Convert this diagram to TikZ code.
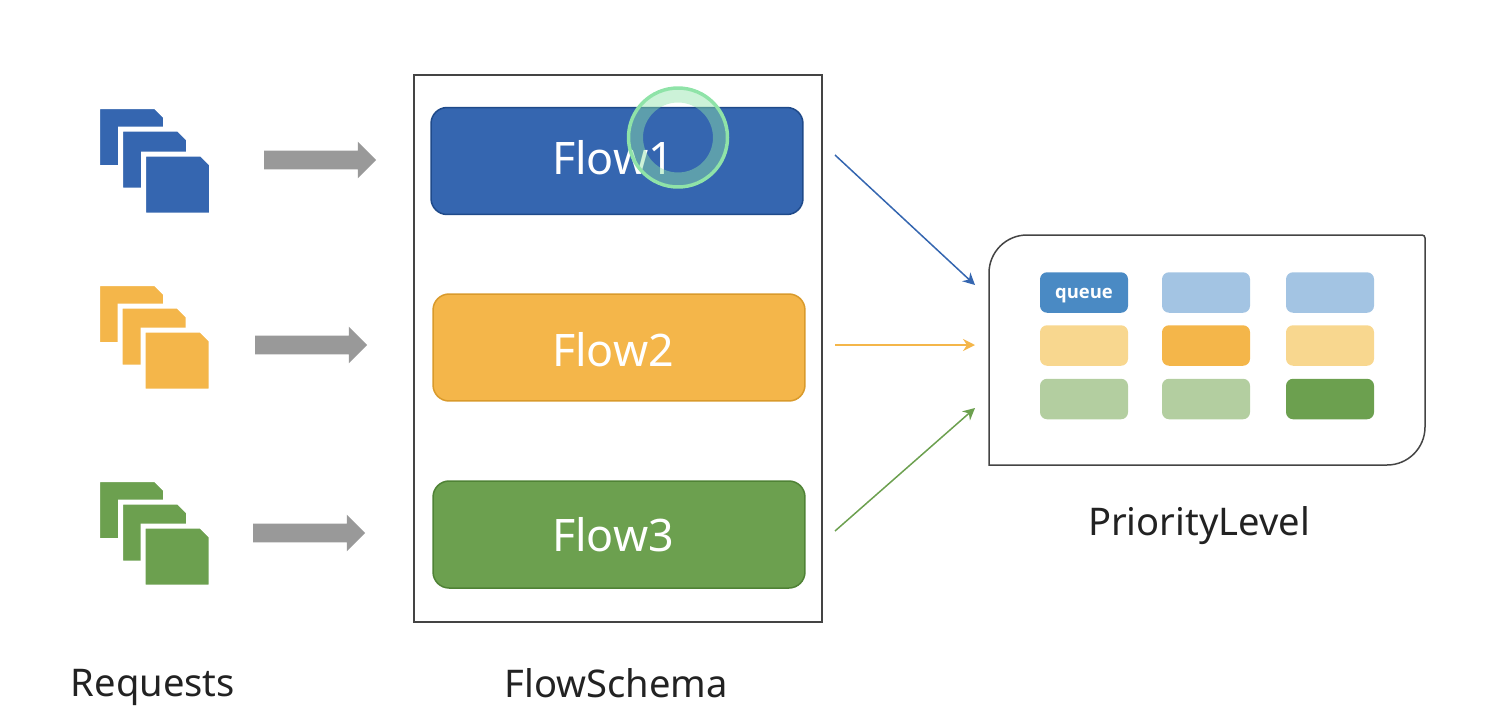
\documentclass[tikz,border=0pt]{standalone}
\usepackage{fontspec}
\setmainfont{Noto Sans}
\newfontfamily\queuefont{Open Sans}
\usetikzlibrary{shapes.arrows, arrows.meta}

\definecolor{flowblue}{HTML}{3566B0}
\definecolor{flowblueline}{HTML}{1F4A8A}
\definecolor{floworange}{HTML}{F4B64A}
\definecolor{floworangeline}{HTML}{D99A2B}
\definecolor{flowgreen}{HTML}{6CA04F}
\definecolor{flowgreenline}{HTML}{4F8235}
\definecolor{queueblue}{HTML}{4A8AC4}
\definecolor{paleblue}{HTML}{A3C4E3}
\definecolor{paleorange}{HTML}{F8D78F}
\definecolor{palegreen}{HTML}{B3CEA0}
\definecolor{arrowgray}{HTML}{999999}
\definecolor{boxline}{HTML}{444444}
\definecolor{ringgreen}{HTML}{8FE3A8}
\definecolor{labeltext}{HTML}{222222}

\tikzset{
	page/.pic={
		\path[draw=white, line width=0.1cm, pic actions] (-34,-30.5) -- (24,-30.5) -- (34,-20.5)
			-- (34,30.5) -- (-34,30.5) -- cycle;
	},
	grayarrow/.style={single arrow, fill=arrowgray, minimum width=0.72cm, minimum height=2.24cm,
		text height=0.36cm, text depth=0cm, text width=0.1cm,
		single arrow head extend=0.18cm, inner sep=0pt, outer sep=0pt},
	flowbox/.style={rectangle, rounded corners=0.32cm, line width=0.03cm,
		minimum width=7.44cm, minimum height=2.14cm, inner sep=0pt, outer sep=0pt},
	flowtext/.style={text=white, font=\fontsize{25.5}{30}\selectfont},
	cell/.style={rectangle, rounded corners=0.14cm, minimum width=1.76cm, minimum height=0.81cm,
		inner sep=0pt, outer sep=0pt},
	caption/.style={text=labeltext, font=\fontsize{21.7}{26}\selectfont},
	thinarrow/.style={-{Stealth[length=0.24cm, width=0.24cm]}, line width=0.03cm},
	outline/.style={draw=boxline, line width=0.03cm}
}

\begin{document}
\begin{tikzpicture}[x=0.02cm, y=-0.02cm]
	\useasboundingbox (0,0) rectangle (1504,724);

	%% requests
	\pic[fill=flowblue] (blue1) at (131.5,137) {page};
	\pic[fill=flowblue] (blue2) at (154.5,159.5) {page};
	\pic[fill=flowblue] (blue3) at (177.5,184.5) {page};

	\pic[fill=floworange] (orange1) at (131.5,314) {page};
	\pic[fill=floworange] (orange2) at (154,336.5) {page};
	\pic[fill=floworange] (orange3) at (177,360.5) {page};

	\pic[fill=flowgreen] (green1) at (131.5,510) {page};
	\pic[fill=flowgreen] (green2) at (154.5,532.5) {page};
	\pic[fill=flowgreen] (green3) at (177,556.5) {page};

	\node[grayarrow] (arrow1) at (315.5,160) {};
	\node[grayarrow] (arrow2) at (306.5,345) {};
	\node[grayarrow] (arrow3) at (304.5,533) {};

	%% flow schema
	\node[outline, rectangle, minimum width=8.16cm, minimum height=10.94cm,
		inner sep=0pt, outer sep=0pt] (schema) at (618,348.5) {};

	\node[flowbox, fill=flowblue, draw=flowblueline] (flow1) at (617,161) {};
	\node[flowbox, fill=floworange, draw=floworangeline] (flow2) at (619,347.5) {};
	\node[flowbox, fill=flowgreen, draw=flowgreenline] (flow3) at (619,534.5) {};

	\node[flowtext] (flow1text) at (613,158) {Flow1};
	\node[flowtext] (flow2text) at (613,350) {Flow2};
	\node[flowtext] (flow3text) at (613,535) {Flow3};

	%% pointer ring
	\node[circle, draw=ringgreen, draw opacity=0.45, line width=0.26cm, minimum size=1.66cm,
		inner sep=0pt] (ringband) at (678,137.5) {};
	\node[circle, draw=ringgreen, line width=0.07cm, minimum size=1.98cm,
		inner sep=0pt] (ringrim) at (678,137.5) {};

	%% priority level
	\draw[outline] (989,465) [rounded corners=0.76cm] -- (989,235)
		[rounded corners=0.06cm] -- (1425,235)
		[rounded corners=0.76cm] -- (1425,465)
		[sharp corners] -- cycle;

	\node[cell, fill=queueblue, text=white, text height=0.3cm, text depth=0.08cm,
		font=\queuefont\fontsize{10.5}{12}\selectfont\bfseries] (queue11) at (1084,292.5) {queue};
	\node[cell, fill=paleblue] (queue12) at (1206,292.5) {};
	\node[cell, fill=paleblue] (queue13) at (1330,292.5) {};
	\node[cell, fill=paleorange] (queue21) at (1084,345.5) {};
	\node[cell, fill=floworange] (queue22) at (1206,345.5) {};
	\node[cell, fill=paleorange] (queue23) at (1330,345.5) {};
	\node[cell, fill=palegreen] (queue31) at (1084,399) {};
	\node[cell, fill=palegreen] (queue32) at (1206,399) {};
	\node[cell, fill=flowgreen] (queue33) at (1330,399) {};

	%% connectors
	\coordinate (out1) at (835,155);
	\coordinate (out2) at (835,345);
	\coordinate (out3) at (835,531);
	\coordinate (in1) at (975,285);
	\coordinate (in2) at (975,345);
	\coordinate (in3) at (975,408);

	\draw[thinarrow, flowblue] (out1) -- (in1);
	\draw[thinarrow, floworange] (out2) -- (in2);
	\draw[thinarrow, flowgreen] (out3) -- (in3);

	%% captions
	\node[caption] (requests) at (153,687) {Requests};
	\node[caption] (flowschema) at (616,683) {FlowSchema};
	\node[caption] (prioritylevel) at (1199,526) {PriorityLevel};
\end{tikzpicture}
\end{document}
